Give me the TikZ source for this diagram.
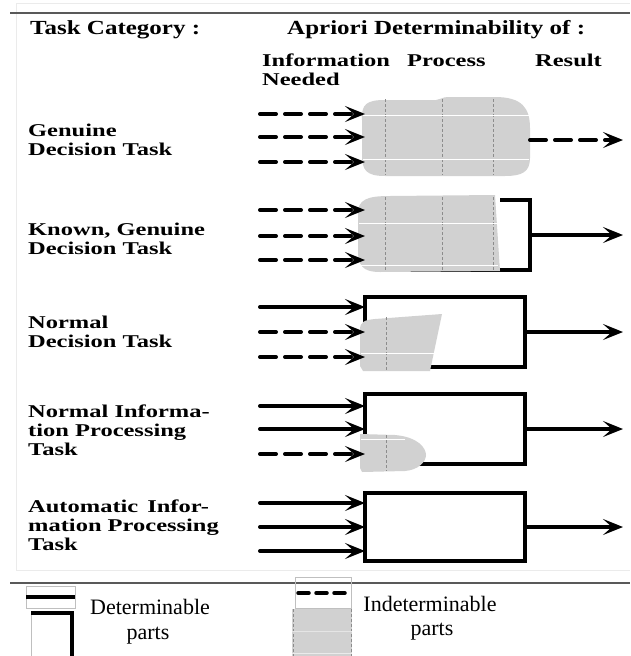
\documentclass[tikz,border=0pt]{standalone}
\usepackage{fontspec}
\setmainfont{Liberation Serif}
\newfontfamily\wideserif[FakeStretch=1.36]{Liberation Serif}
\newfontfamily\headserif[FakeStretch=1.25]{Liberation Serif}
\usetikzlibrary{calc, arrows.meta, positioning}

\begin{document}
\begin{tikzpicture}[x=1pt, y=-1pt,
    >={Stealth[length=20pt, width=16pt, inset=9pt]},
    every node/.style={inner sep=0pt},
    lab/.style={anchor=base west, align=left, font=\wideserif\bfseries\fontsize{18}{19}\selectfont},
    head/.style={anchor=base west, font=\headserif\bfseries\fontsize{20}{20}\selectfont},
    leg/.style={anchor=base, font=\fontsize{22}{22}\selectfont},
    known/.style={line width=4pt, line cap=round},
    guess/.style={line width=4pt, line cap=round, dash pattern=on 16pt off 9pt},
    procbox/.style={draw, line width=4pt, outer sep=0pt, minimum width=160pt, minimum height=70pt, anchor=north west},
    procarea/.style={outer sep=0pt, minimum width=165pt, minimum height=70pt, anchor=north west},
    blob/.style={fill=black!18},
    gridv/.style={black!45, line width=0.6pt, dash pattern=on 3pt off 2pt},
    gridh/.style={white, line width=0.8pt},
    rule/.style={black!65, line width=1.6pt},
    faint/.style={black!8, line width=0.8pt},
    outline/.style={black!25, line width=0.7pt}]
  \useasboundingbox (0,0) rectangle (630,656);

  % page edges and rules
  \draw[faint] (16,570) -- (16,3) -- (630,3);
  \draw[faint] (16,570) -- (630,570);
  \draw[rule] (10,13) -- (630,13);
  \draw[rule] (10,583) -- (630,583);

  % headings (base = last line)
  \node[head] (taskhead) at (30,34) {Task Category :};
  \node[head] (aprhead) at (287,34) {Apriori Determinability of :};
  \node[lab] (infohead) at (262,85) {Information\\Needed};
  \node[lab] (prochead) at (407,66) {Process};
  \node[lab] (reshead) at (535,66) {Result};

  % task categories
  \node[lab] (lab1) at (28,155) {Genuine\\Decision Task};
  \node[lab] (lab2) at (28,254) {Known, Genuine\\Decision Task};
  \node[lab] (lab3) at (28,347) {Normal\\Decision Task};
  \node[lab] (lab4) at (28,455) {Normal Informa-\\tion Processing\\Task};
  \node[lab] (lab5) at (28,550) {Automatic\enspace Infor-\\mation Processing\\Task};

  % processes
  \node[procarea] (box1) at (365,105) {};
  \node[procarea] (box2) at (365,200) {};
  \node[procbox] (box3) at (365,297) {};
  \node[procbox] (box4) at (365,394) {};
  \node[procbox, minimum height=68pt] (box5) at (365,493) {};
  \draw[known, line cap=butt] ($(box2.north east)+(-30,0)$) -- (box2.north east)
       -- (box2.south east) -- ($(box2.south west)+(28,0)$);

  % indeterminable parts
  \fill[blob] (362,120) .. controls (361,104) and (367,100) .. (385,100) -- (436,100)
       .. controls (440,100) and (442,97) .. (448,97) -- (495,97)
       .. controls (522,97) and (530,108) .. (530,128) -- (530,158)
       .. controls (530,172) and (522,176) .. (505,176) -- (385,176)
       .. controls (366,176) and (362,170) .. (362,155) -- cycle;
  \foreach \gx in {385,442,493} \draw[gridv] (\gx,99) -- (\gx,175);
  \foreach \gy in {115,159} \draw[gridh] (363,\gy) -- (529,\gy);

  \fill[blob] (358,215) .. controls (357,199) and (368,196) .. (390,196) -- (495,195)
       -- (500,271) -- (380,272) .. controls (362,272) and (358,265) .. (358,250) -- cycle;
  \foreach \gx in {385,442,493} \draw[gridv] (\gx,197) -- (\gx,271);
  \foreach \gy in {223,265} \draw[gridh] (359,\gy) -- (498,\gy);

  \fill[blob] (360,330) .. controls (360,322) and (364,320) .. (375,319) -- (442,314)
       -- (430,371) -- (363,371) -- (360,366) -- cycle;
  \draw[gridv] (386,317) -- (386,370);
  \draw[gridh] (361,353) -- (434,353);

  \fill[blob] (360,434) -- (395,435) .. controls (418,437) and (426,448) .. (426,455)
       .. controls (426,462) and (418,470) .. (405,471) -- (362,472) -- (360,468) -- cycle;
  \draw[gridv] (386,435) -- (386,471);
  \draw[gridh] (361,439) -- (405,439);

  % information needed
  \coordinate (in1a) at (260,114);
  \coordinate (in1b) at (260,137);
  \coordinate (in1c) at (260,162);
  \coordinate (in2a) at (260,210);
  \coordinate (in2b) at (260,236);
  \coordinate (in2c) at (260,260);
  \coordinate (in3a) at (260,307);
  \coordinate (in3b) at (260,332);
  \coordinate (in3c) at (260,357);
  \coordinate (in4a) at (260,406);
  \coordinate (in4b) at (260,429);
  \coordinate (in4c) at (260,454);
  \coordinate (in5a) at (260,503);
  \coordinate (in5b) at (260,527);
  \coordinate (in5c) at (260,551);
  \draw[guess, ->] (in1a) -- (in1a -| box1.west);
  \draw[guess, ->] (in1b) -- (in1b -| box1.west);
  \draw[guess, ->] (in1c) -- (in1c -| box1.west);
  \draw[guess, ->] (in2a) -- (in2a -| box2.west);
  \draw[guess, ->] (in2b) -- (in2b -| box2.west);
  \draw[guess, ->] (in2c) -- (in2c -| box2.west);
  \draw[known, ->] (in3a) -- (in3a -| box3.west);
  \draw[guess, ->] (in3b) -- (in3b -| box3.west);
  \draw[guess, ->] (in3c) -- (in3c -| box3.west);
  \draw[known, ->] (in4a) -- (in4a -| box4.west);
  \draw[known, ->] (in4b) -- (in4b -| box4.west);
  \draw[guess, ->] (in4c) -- (in4c -| box4.west);
  \draw[known, ->] (in5a) -- (in5a -| box5.west);
  \draw[known, ->] (in5b) -- (in5b -| box5.west);
  \draw[known, ->] (in5c) -- (in5c -| box5.west);

  % results
  \coordinate (out) at (623,0);
  \draw[guess, ->] (box1.east) -- (box1.east -| out);
  \draw[known, ->] (box2.east) -- (box2.east -| out);
  \draw[known, ->] (box3.east) -- (box3.east -| out);
  \draw[known, ->] (box4.east) -- (box4.east -| out);
  \draw[known, ->] (box5.east) -- (box5.east -| out);

  % legend
  \draw[outline] (26,586) rectangle (75,608);
  \draw[line width=3.5pt] (26,597) -- (75,597);
  \draw[outline] (31,613) -- (31,656);
  \draw[line width=3.5pt] (31,613) -- (72,613) -- (72,656);
  \draw[outline] (295,577) rectangle (351,608);
  \draw[line width=3.5pt, line cap=round, dash pattern=on 11pt off 7pt] (298,593) -- (349,593);
  \fill[blob] (292,609) rectangle (352,656);
  \draw[gridv] (293,609) -- (293,656);
  \draw[gridv] (351,609) -- (351,656);
  \draw[black!10, line width=0.6pt] (292,631) -- (352,631);
  \draw[black!8, line width=0.6pt] (292,653) -- (352,653);
  \node[leg] (legdet) at (150,614) {Determinable};
  \node[leg] (legdetparts) at (148,639) {parts};
  \node[leg] (legind) at (430,611) {Indeterminable};
  \node[leg] (legindparts) at (432,635) {parts};
\end{tikzpicture}
\end{document}
